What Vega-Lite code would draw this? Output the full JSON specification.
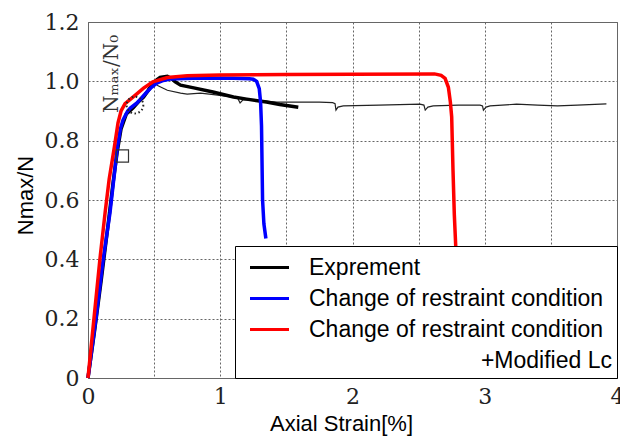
{
  "$schema": "https://vega.github.io/schema/vega-lite/v6.json",
  "width": 529,
  "height": 356,
  "autosize": "none",
  "padding": {"left": 88, "top": 22, "right": 3, "bottom": 59},
  "background": "white",
  "config": {
    "view": {"stroke": "#666", "strokeWidth": 1},
    "axis": {
      "grid": true, "gridColor": "#666", "gridDash": [2, 2], "gridWidth": 1,
      "domainColor": "#666", "ticks": false, "tickSize": 0,
      "labelFont": "DejaVu Serif", "labelFontSize": 22, "labelColor": "#222",
      "labelFlush": false, "labelOverlap": false, "labelBound": false,
      "titleFont": "Liberation Sans", "titleFontSize": 22, "titleFontWeight": "normal", "titleColor": "black"
    }
  },
  "datasets": {
    "thin": [
      {"x": 0.45, "y": 0.975}, {"x": 0.5, "y": 0.995}, {"x": 0.53, "y": 0.985}, {"x": 0.6, "y": 0.97},
      {"x": 0.7, "y": 0.96}, {"x": 0.75, "y": 0.957}, {"x": 0.85, "y": 0.96}, {"x": 0.95, "y": 0.955},
      {"x": 1.1, "y": 0.947}, {"x": 1.13, "y": 0.945}, {"x": 1.15, "y": 0.927}, {"x": 1.17, "y": 0.937},
      {"x": 1.25, "y": 0.937}, {"x": 1.43, "y": 0.93}, {"x": 1.6, "y": 0.93}, {"x": 1.75, "y": 0.93},
      {"x": 1.85, "y": 0.928}, {"x": 1.868, "y": 0.925}, {"x": 1.875, "y": 0.903}, {"x": 1.89, "y": 0.913},
      {"x": 1.93, "y": 0.917}, {"x": 2.2, "y": 0.92}, {"x": 2.51, "y": 0.923}, {"x": 2.54, "y": 0.92},
      {"x": 2.55, "y": 0.903}, {"x": 2.57, "y": 0.913}, {"x": 2.61, "y": 0.917}, {"x": 2.8, "y": 0.92},
      {"x": 2.965, "y": 0.92}, {"x": 2.983, "y": 0.917}, {"x": 2.99, "y": 0.903}, {"x": 3.01, "y": 0.913},
      {"x": 3.04, "y": 0.917}, {"x": 3.24, "y": 0.923}, {"x": 3.4, "y": 0.92}, {"x": 3.55, "y": 0.917},
      {"x": 3.7, "y": 0.92}, {"x": 3.92, "y": 0.924}
    ],
    "curves": [
      {"series": "Exprement", "x": 0, "y": 0}, {"series": "Exprement", "x": 0.05, "y": 0.16},
      {"series": "Exprement", "x": 0.1, "y": 0.33}, {"series": "Exprement", "x": 0.15, "y": 0.51},
      {"series": "Exprement", "x": 0.19, "y": 0.66}, {"series": "Exprement", "x": 0.22, "y": 0.76},
      {"series": "Exprement", "x": 0.25, "y": 0.84}, {"series": "Exprement", "x": 0.29, "y": 0.89},
      {"series": "Exprement", "x": 0.34, "y": 0.91}, {"series": "Exprement", "x": 0.38, "y": 0.93},
      {"series": "Exprement", "x": 0.42, "y": 0.947}, {"series": "Exprement", "x": 0.46, "y": 0.972},
      {"series": "Exprement", "x": 0.49, "y": 0.99}, {"series": "Exprement", "x": 0.52, "y": 1.005},
      {"series": "Exprement", "x": 0.545, "y": 1.013}, {"series": "Exprement", "x": 0.6, "y": 1.017},
      {"series": "Exprement", "x": 0.63, "y": 1.01}, {"series": "Exprement", "x": 0.66, "y": 0.998},
      {"series": "Exprement", "x": 0.7, "y": 0.987}, {"series": "Exprement", "x": 0.8, "y": 0.978},
      {"series": "Exprement", "x": 0.945, "y": 0.964}, {"series": "Exprement", "x": 1.1, "y": 0.947},
      {"series": "Exprement", "x": 1.2, "y": 0.94}, {"series": "Exprement", "x": 1.35, "y": 0.93},
      {"series": "Exprement", "x": 1.45, "y": 0.922}, {"series": "Exprement", "x": 1.59, "y": 0.913},

      {"series": "Change of restraint condition", "x": 0, "y": 0},
      {"series": "Change of restraint condition", "x": 0.06, "y": 0.2},
      {"series": "Change of restraint condition", "x": 0.115, "y": 0.4},
      {"series": "Change of restraint condition", "x": 0.166, "y": 0.556},
      {"series": "Change of restraint condition", "x": 0.2, "y": 0.69},
      {"series": "Change of restraint condition", "x": 0.22, "y": 0.77},
      {"series": "Change of restraint condition", "x": 0.245, "y": 0.84},
      {"series": "Change of restraint condition", "x": 0.265, "y": 0.87},
      {"series": "Change of restraint condition", "x": 0.3, "y": 0.9},
      {"series": "Change of restraint condition", "x": 0.32, "y": 0.91},
      {"series": "Change of restraint condition", "x": 0.37, "y": 0.927},
      {"series": "Change of restraint condition", "x": 0.41, "y": 0.947},
      {"series": "Change of restraint condition", "x": 0.445, "y": 0.964},
      {"series": "Change of restraint condition", "x": 0.48, "y": 0.98},
      {"series": "Change of restraint condition", "x": 0.52, "y": 0.994},
      {"series": "Change of restraint condition", "x": 0.57, "y": 1.003},
      {"series": "Change of restraint condition", "x": 0.62, "y": 1.008},
      {"series": "Change of restraint condition", "x": 0.85, "y": 1.011},
      {"series": "Change of restraint condition", "x": 1.1, "y": 1.01},
      {"series": "Change of restraint condition", "x": 1.22, "y": 1.009},
      {"series": "Change of restraint condition", "x": 1.25, "y": 1.007},
      {"series": "Change of restraint condition", "x": 1.275, "y": 1.0},
      {"series": "Change of restraint condition", "x": 1.295, "y": 0.975},
      {"series": "Change of restraint condition", "x": 1.305, "y": 0.93},
      {"series": "Change of restraint condition", "x": 1.312, "y": 0.85},
      {"series": "Change of restraint condition", "x": 1.32, "y": 0.6},
      {"series": "Change of restraint condition", "x": 1.33, "y": 0.52},
      {"series": "Change of restraint condition", "x": 1.345, "y": 0.47},

      {"series": "Change of restraint condition +Modified Lc", "x": 0, "y": 0},
      {"series": "Change of restraint condition +Modified Lc", "x": 0.045, "y": 0.2},
      {"series": "Change of restraint condition +Modified Lc", "x": 0.09, "y": 0.4},
      {"series": "Change of restraint condition +Modified Lc", "x": 0.13, "y": 0.56},
      {"series": "Change of restraint condition +Modified Lc", "x": 0.16, "y": 0.67},
      {"series": "Change of restraint condition +Modified Lc", "x": 0.2, "y": 0.78},
      {"series": "Change of restraint condition +Modified Lc", "x": 0.227, "y": 0.86},
      {"series": "Change of restraint condition +Modified Lc", "x": 0.25, "y": 0.9},
      {"series": "Change of restraint condition +Modified Lc", "x": 0.28, "y": 0.925},
      {"series": "Change of restraint condition +Modified Lc", "x": 0.34, "y": 0.947},
      {"series": "Change of restraint condition +Modified Lc", "x": 0.42, "y": 0.977},
      {"series": "Change of restraint condition +Modified Lc", "x": 0.49, "y": 0.998},
      {"series": "Change of restraint condition +Modified Lc", "x": 0.6, "y": 1.013},
      {"series": "Change of restraint condition +Modified Lc", "x": 0.75, "y": 1.019},
      {"series": "Change of restraint condition +Modified Lc", "x": 1.0, "y": 1.021},
      {"series": "Change of restraint condition +Modified Lc", "x": 1.5, "y": 1.023},
      {"series": "Change of restraint condition +Modified Lc", "x": 2.0, "y": 1.024},
      {"series": "Change of restraint condition +Modified Lc", "x": 2.62, "y": 1.025},
      {"series": "Change of restraint condition +Modified Lc", "x": 2.67, "y": 1.02},
      {"series": "Change of restraint condition +Modified Lc", "x": 2.7, "y": 1.01},
      {"series": "Change of restraint condition +Modified Lc", "x": 2.725, "y": 0.98},
      {"series": "Change of restraint condition +Modified Lc", "x": 2.74, "y": 0.93},
      {"series": "Change of restraint condition +Modified Lc", "x": 2.75, "y": 0.88},
      {"series": "Change of restraint condition +Modified Lc", "x": 2.76, "y": 0.7},
      {"series": "Change of restraint condition +Modified Lc", "x": 2.77, "y": 0.55},
      {"series": "Change of restraint condition +Modified Lc", "x": 2.785, "y": 0.4},
      {"series": "Change of restraint condition +Modified Lc", "x": 2.8, "y": 0.2}
    ],
    "markers": [
      {"kind": "square", "x": 0.26, "y": 0.748},
      {"kind": "ring", "x": 0.355, "y": 0.92}
    ],
    "notes": [
      {"text": "Nₘₐₓ/N₀", "x": 0.225, "y": 1.025}
    ]
  },
  "layer": [
    {
      "data": {"name": "thin"},
      "mark": {"type": "line", "color": "#222", "strokeWidth": 1.2},
      "encoding": {
        "x": {"field": "x", "type": "quantitative", "scale": {"domain": [0, 4], "nice": false, "zero": false},
          "axis": {"values": [0, 0.5, 1, 1.5, 2, 2.5, 3, 3.5, 4],
            "labelExpr": "datum.value % 1 === 0 ? format(datum.value, 'd') : ''",
            "labelPadding": 8, "title": "Axial Strain[%]", "titleX": 253, "titleY": 52, "titleBaseline": "alphabetic"}},
        "y": {"field": "y", "type": "quantitative", "scale": {"domain": [0, 1.2], "nice": false},
          "axis": {"values": [0, 0.2, 0.4, 0.6, 0.8, 1.0, 1.2],
            "labelExpr": "datum.value === 0 ? '0' : format(datum.value, '.1f')",
            "labelPadding": 9, "title": "Nmax/N", "titleX": -56, "titleY": 173, "titleBaseline": "alphabetic", "titleAngle": 270, "titleAlign": "center"}}
      }
    },
    {
      "data": {"name": "curves"},
      "mark": {"type": "line", "strokeWidth": 3.5},
      "encoding": {
        "x": {"field": "x", "type": "quantitative"},
        "y": {"field": "y", "type": "quantitative"},
        "color": {
          "field": "series", "type": "nominal",
          "scale": {
            "domain": ["Exprement", "Change of restraint condition", "Change of restraint condition +Modified Lc", "+Modified Lc"],
            "range": ["#000000", "#0000ff", "#ff0000", "transparent"]
          },
          "legend": {
            "title": null, "orient": "bottom-right", "offset": 0,
            "values": ["Exprement", "Change of restraint condition", "Change of restraint condition +Modified Lc", "+Modified Lc"],
            "fillColor": "white", "strokeColor": "black",
            "padding": 5, "rowPadding": 2,
            "symbolType": "M-1.3,0H1.3", "symbolSize": 900, "symbolStrokeWidth": 3, "symbolOffset": 13,
            "labelFont": "Liberation Sans", "labelFontSize": 23, "labelColor": "black", "labelLimit": 0, "labelOffset": 23,
            "labelExpr": "datum.label === 'Change of restraint condition +Modified Lc' ? 'Change of restraint condition' : datum.label",
            "encode": {
              "labels": {
                "update": {
                  "align": {"signal": "datum.label === '+Modified Lc' ? 'right' : 'left'"},
                  "dx": {"signal": "datum.label === '+Modified Lc' ? 303 : 0"}
                }
              }
            }
          }
        }
      }
    },
    {
      "data": {"name": "markers"},
      "transform": [{"filter": "datum.kind === 'square'"}],
      "mark": {"type": "point", "shape": "square", "filled": false, "size": 150, "stroke": "#333", "strokeWidth": 1.2, "opacity": 1},
      "encoding": {
        "x": {"field": "x", "type": "quantitative"},
        "y": {"field": "y", "type": "quantitative"}
      }
    },
    {
      "data": {"name": "markers"},
      "transform": [{"filter": "datum.kind === 'ring'"}],
      "mark": {"type": "point", "shape": "circle", "filled": false, "size": 280, "stroke": "#222", "strokeWidth": 2, "strokeDash": [1.5, 2.5], "opacity": 1},
      "encoding": {
        "x": {"field": "x", "type": "quantitative"},
        "y": {"field": "y", "type": "quantitative"}
      }
    },
    {
      "data": {"name": "notes"},
      "mark": {"type": "text", "angle": 270, "align": "center", "baseline": "alphabetic", "font": "DejaVu Serif", "fontSize": 20, "color": "#333"},
      "encoding": {
        "x": {"field": "x", "type": "quantitative"},
        "y": {"field": "y", "type": "quantitative"},
        "text": {"field": "text"}
      }
    }
  ]
}
